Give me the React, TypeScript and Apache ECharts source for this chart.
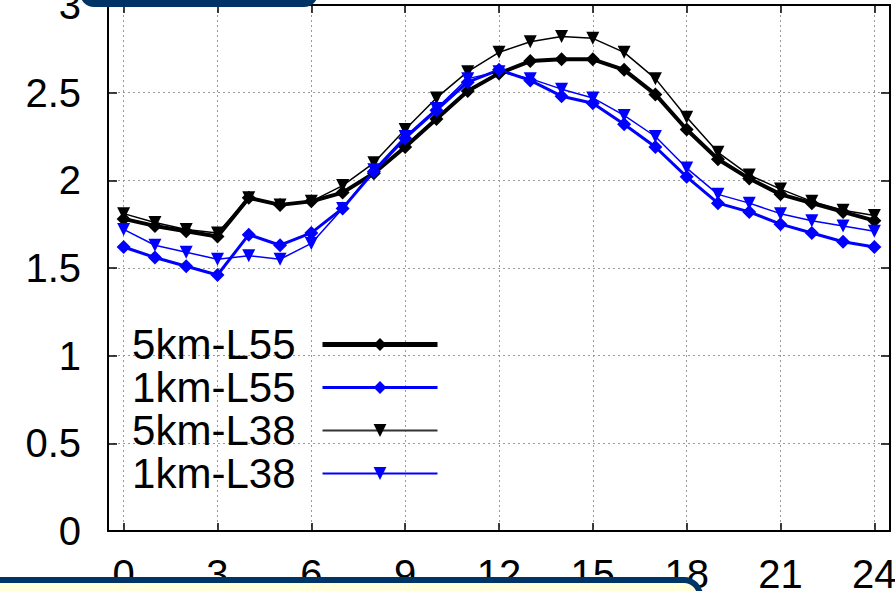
import React, { useEffect, useRef } from "react";
import * as echarts from "echarts";

const hours = [0, 1, 2, 3, 4, 5, 6, 7, 8, 9, 10, 11, 12, 13, 14, 15, 16, 17, 18, 19, 20, 21, 22, 23, 24];
const xTickValues = [0, 3, 6, 9, 12, 15, 18, 21, 24];
const seriesNames = ["5km-L55", "1km-L55", "5km-L38", "1km-L38"];

const km5L55 = [1.78, 1.74, 1.71, 1.68, 1.90, 1.86, 1.88, 1.93, 2.04, 2.19, 2.35, 2.51, 2.61, 2.68, 2.69, 2.69, 2.63, 2.49, 2.29, 2.12, 2.01, 1.92, 1.87, 1.82, 1.77];
const km1L55 = [1.62, 1.56, 1.51, 1.46, 1.69, 1.63, 1.70, 1.84, 2.05, 2.24, 2.40, 2.56, 2.63, 2.57, 2.48, 2.44, 2.32, 2.19, 2.02, 1.87, 1.82, 1.75, 1.70, 1.65, 1.62];
const km5L38 = [1.81, 1.76, 1.72, 1.70, 1.90, 1.86, 1.88, 1.97, 2.10, 2.29, 2.47, 2.62, 2.73, 2.79, 2.82, 2.81, 2.73, 2.58, 2.36, 2.16, 2.03, 1.95, 1.88, 1.83, 1.80];
const km1L38 = [1.72, 1.63, 1.59, 1.55, 1.57, 1.55, 1.64, 1.84, 2.06, 2.25, 2.41, 2.58, 2.62, 2.58, 2.52, 2.47, 2.37, 2.25, 2.07, 1.92, 1.87, 1.81, 1.77, 1.74, 1.71];

const FONT = "'Liberation Sans', Arial, Helvetica, sans-serif";

export default function App() {
  const ref = useRef<HTMLDivElement>(null);

  useEffect(() => {
    const chart = echarts.init(ref.current as HTMLDivElement, null, { renderer: "svg" });

    const axisLine = { show: true, onZero: false, lineStyle: { color: "#000", width: 2 } };
    const gridLine = { show: true, lineStyle: { color: "#9a9a9a", width: 1, type: [2, 3] } };

    const mk = (name: string, arr: number[], color: string, width: number, symbol: string, size: number, rotate: number) => ({
      name,
      type: "line",
      xAxisIndex: 0,
      yAxisIndex: 0,
      data: hours.map((h, i) => [h, arr[i]]),
      symbol,
      symbolSize: size,
      symbolRotate: rotate,
      showAllSymbol: true,
      lineStyle: { color, width },
      itemStyle: { color },
      emphasis: { disabled: true },
    });

    chart.setOption({
      animation: false,
      backgroundColor: "#ffffff",
      grid: { left: 108, right: 5, top: 5, bottom: 60, containLabel: false, outerBoundsMode: "none" },
      xAxis: [
        {
          type: "value",
          min: -0.5,
          max: 24.5,
          position: "bottom",
          axisLine,
          axisTick: { show: true, inside: true, length: 8, customValues: xTickValues, lineStyle: { color: "#000", width: 1.5 } },
          axisLabel: { customValues: xTickValues, fontSize: 40, color: "#000", fontFamily: FONT, margin: 23, hideOverlap: false },
          splitLine: gridLine,
        },
        {
          type: "value",
          min: -0.5,
          max: 24.5,
          position: "top",
          axisLine,
          axisTick: { show: true, inside: true, length: 8, customValues: xTickValues, lineStyle: { color: "#000", width: 1.5 } },
          axisLabel: { show: false },
          splitLine: { show: false },
        },
      ],
      yAxis: [
        {
          type: "value",
          min: 0,
          max: 3,
          interval: 0.5,
          position: "left",
          axisLine,
          axisTick: { show: true, inside: true, length: 9, lineStyle: { color: "#000", width: 1.5 } },
          axisLabel: { fontSize: 40, color: "#000", fontFamily: FONT, margin: 27 },
          splitLine: gridLine,
        },
        {
          type: "value",
          min: 0,
          max: 3,
          interval: 0.5,
          position: "right",
          axisLine,
          axisTick: { show: true, inside: true, length: 9, lineStyle: { color: "#000", width: 1.5 } },
          axisLabel: { show: false },
          splitLine: { show: false },
        },
      ],
      legend: {
        data: [
          { name: seriesNames[0], lineStyle: { width: 5 } },
          { name: seriesNames[1], lineStyle: { width: 3 } },
          { name: seriesNames[2], lineStyle: { width: 2, color: "#333" } },
          { name: seriesNames[3], lineStyle: { width: 2 } },
        ],
        orient: "vertical",
        right: 455,
        top: 323,
        align: "right",
        itemWidth: 115,
        itemHeight: 16,
        itemGap: 0,
        padding: 0,
        selectedMode: false,
        textStyle: { fontSize: 42, fontFamily: FONT, color: "#000", lineHeight: 43, padding: [0, 22, 0, 0] },
      },
      series: [
        mk(seriesNames[0], km5L55, "#000000", 4, "diamond", 14, 0),
        mk(seriesNames[1], km1L55, "#0000ff", 3, "diamond", 14, 0),
        mk(seriesNames[2], km5L38, "#000000", 1.5, "triangle", 13, 180),
        mk(seriesNames[3], km1L38, "#0000ff", 1.5, "triangle", 13, 180),
      ],
      graphic: [
        { type: "rect", z: 100, shape: { x: 80, y: -40, width: 238, height: 47, r: 14 }, style: { fill: "#003366" } },
        {
          type: "rect",
          z: 100,
          shape: { x: -10, y: 580, width: 710, height: 40, r: [0, 16, 0, 0] },
          style: { fill: "#ffffdc", stroke: "#003366", lineWidth: 6 },
        },
      ],
    });

    return () => chart.dispose();
  }, []);

  return <div ref={ref} style={{ position: "fixed", left: 0, top: 0, width: 895, height: 591, background: "#fff" }} />;
}
